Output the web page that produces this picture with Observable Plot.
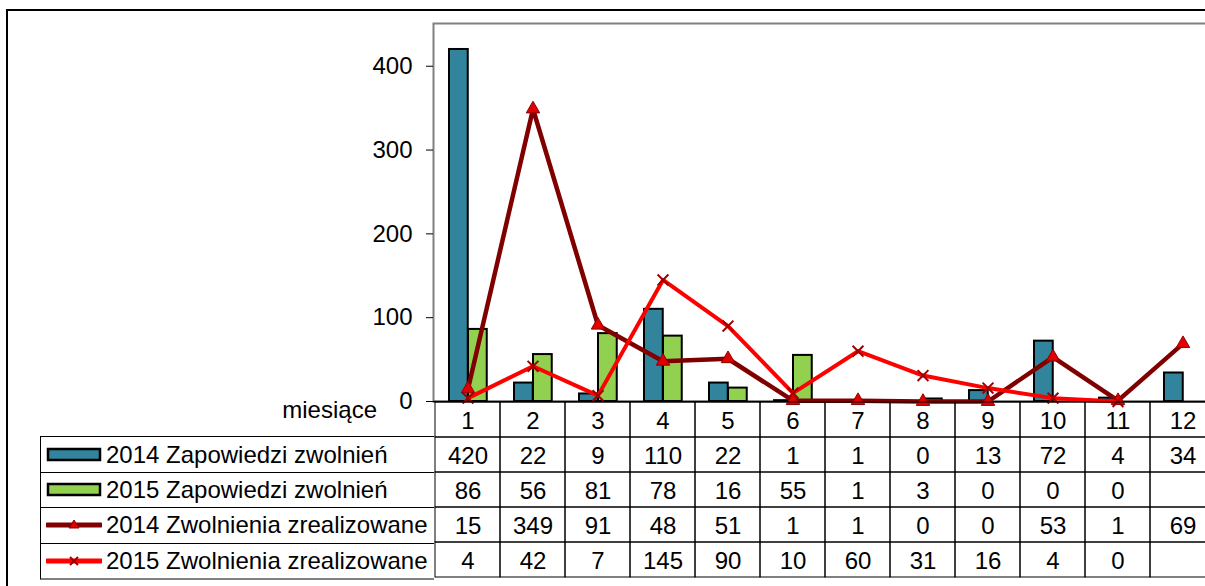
<!DOCTYPE html>
<html>
<head>
<meta charset="utf-8">
<script src="https://cdn.jsdelivr.net/npm/d3@7"></script>
<script src="https://cdn.jsdelivr.net/npm/@observablehq/plot@0.6"></script>
<style>
  html, body { margin: 0; padding: 0; background: #fff; overflow: hidden; }
  body { width: 1205px; height: 586px; position: relative; font-family: "Liberation Sans", Arial, sans-serif; }
  #outer { position: absolute; left: 6px; top: 9px; width: 1400px; height: 800px; border-top: 2px solid #000; border-left: 2px solid #000; }
  #chart, #table { position: absolute; left: 0; }
  #chart { top: 0; }
  #table { top: 401px; }
  #legend { position: absolute; left: 40px; width: 393px; border-left: 1px solid #000; }
  .lrow { box-sizing: border-box; display: flex; align-items: center; border-top: 1px solid #000; font-size: 24px; color: #000; white-space: nowrap; }
  .lrow svg { margin-left: 5px; margin-right: 4px; flex: none; }
  #xlab { position: absolute; right: 828px; top: 396px; font-size: 24px; color: #000; }
</style>
</head>
<body>
<div id="outer"></div>
<div id="chart"></div>
<div id="table"></div>
<div id="legend"></div>
<div id="xlab">miesiące</div>
<script>
const months = [1, 2, 3, 4, 5, 6, 7, 8, 9, 10, 11, 12];
const zap2014 = [420, 22, 9, 110, 22, 1, 1, 0, 13, 72, 4, 34];
const zap2015 = [86, 56, 81, 78, 16, 55, 1, 3, 0, 0, 0, null];
const zw2014 = [15, 349, 91, 48, 51, 1, 1, 0, 0, 53, 1, 69];
const zw2015 = [4, 42, 7, 145, 90, 10, 60, 31, 16, 4, 0, null];
const seriesNames = ["2014 Zapowiedzi zwolnień", "2015 Zapowiedzi zwolnień", "2014 Zwolnienia zrealizowane", "2015 Zwolnienia zrealizowane"];
const yTicks = [0, 100, 200, 300, 400];
const xTitle = "miesiące";

const BLUE = "#31849B", GREEN = "#92D050", DARKRED = "#800000", RED = "#FF0000";

const toRows = (vals) => months.map((m, i) => ({month: m, value: vals[i]})).filter(d => d.value != null);
const d14 = toRows(zap2014), d15 = toRows(zap2015), l14 = toRows(zw2014), l15 = toRows(zw2015);

const W = 1205;
const chart = Plot.plot({
  width: W, height: 586,
  marginLeft: 433, marginRight: -11, marginTop: 23, marginBottom: 185,
  style: {fontFamily: "Liberation Sans, Arial, sans-serif", fontSize: "24px", background: "transparent", color: "#000"},
  x: {type: "band", domain: months, padding: 0, axis: null},
  y: {domain: [0, 451], axis: null},
  marks: [
    Plot.frame({stroke: "#808080", strokeWidth: 2}),
    Plot.barY(d14, {x: "month", y: "value", fill: BLUE, stroke: "#000", strokeWidth: 2, insetLeft: 14, insetRight: 32.25}),
    Plot.barY(d15, {x: "month", y: "value", fill: GREEN, stroke: "#000", strokeWidth: 2, insetLeft: 33, insetRight: 13.25}),
    Plot.ruleY([0], {stroke: "#000", strokeWidth: 1.5}),
    Plot.axisY({ticks: yTicks, label: null, tickSize: 7, tickPadding: 14, fontSize: 24, stroke: "#000", fill: "#000", tickFormat: d => String(d)}),
    Plot.lineY(l14, {x: "month", y: "value", stroke: DARKRED, strokeWidth: 4.5}),
    Plot.dot(l14, {x: "month", y: "value", symbol: "triangle", r: 5, fill: "#E00000", stroke: "#900000", strokeWidth: 1}),
    Plot.lineY(l15, {x: "month", y: "value", stroke: RED, strokeWidth: 4}),
    Plot.dot(l15, {x: "month", y: "value", symbol: "times", r: 5, stroke: "#A00000", strokeWidth: 2})
  ]
});
document.getElementById("chart").appendChild(chart);

// Data table under the chart
const rowKeys = ["hdr", "s1", "s2", "s3", "s4"];
const rowVals = {s1: zap2014, s2: zap2015, s3: zw2014, s4: zw2015};
const cells = [];
for (const r of rowKeys) {
  months.forEach((m, i) => {
    const label = r === "hdr" ? String(m) : (rowVals[r][i] == null ? "" : String(rowVals[r][i]));
    cells.push({row: r, month: m, label});
  });
}
const TH = 178;
const table = Plot.plot({
  width: W, height: TH,
  marginLeft: 433, marginRight: -11, marginTop: 0, marginBottom: 1,
  style: {fontFamily: "Liberation Sans, Arial, sans-serif", fontSize: "24px", background: "transparent", color: "#000"},
  x: {type: "band", domain: months, padding: 0, axis: null},
  y: {type: "band", domain: rowKeys, padding: 0, axis: null},
  marks: [
    Plot.cell(cells, {x: "month", y: "row", fill: "none", stroke: "#000", strokeWidth: 1, inset: 0}),
    Plot.text(cells, {x: "month", y: "row", text: "label", fontSize: 24, fill: "#000", dy: 1}),
    Plot.ruleY([0], {frameAnchor: "bottom", stroke: "#808080", strokeWidth: 2})
  ]
});
document.getElementById("table").appendChild(table);

// Legend column aligned with table rows
const rowH = (TH - 1) / rowKeys.length;
const legend = document.getElementById("legend");
legend.style.top = (401 + rowH) + "px";
legend.style.borderBottom = "2px solid #808080";
const keys = [
  {type: "bar", color: BLUE},
  {type: "bar", color: GREEN},
  {type: "line", color: DARKRED, marker: "tri"},
  {type: "line", color: RED, marker: "x"}
];
seriesNames.forEach((name, i) => {
  const row = document.createElement("div");
  row.className = "lrow";
  row.style.height = rowH + "px";
  if (i === 0) row.style.borderTop = "1px solid #000";
  const k = keys[i];
  let svg;
  if (k.type === "bar") {
    svg = `<svg width="56" height="16"><rect x="2" y="2" width="52" height="11" fill="${k.color}" stroke="#000" stroke-width="2.5"/></svg>`;
  } else {
    const mk = k.marker === "tri"
      ? `<path d="M28,3 L33,11 L23,11 Z" fill="#E00000" stroke="#900000" stroke-width="1"/>`
      : `<path d="M24,4 L32,12 M32,4 L24,12" stroke="#A00000" stroke-width="2"/>`;
    svg = `<svg width="56" height="16"><line x1="1" y1="8" x2="55" y2="8" stroke="${k.color}" stroke-width="5" stroke-linecap="round"/>${mk}</svg>`;
  }
  row.innerHTML = svg + `<span>${name}</span>`;
  legend.appendChild(row);
});
document.getElementById("xlab").textContent = xTitle;
</script>
</body>
</html>
